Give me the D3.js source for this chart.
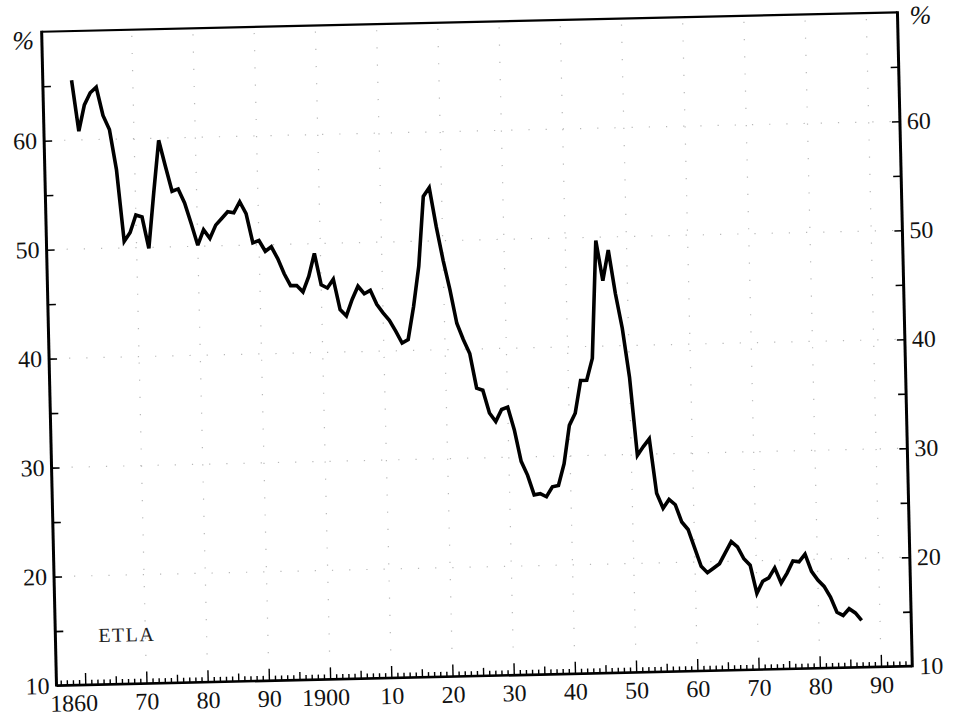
<!DOCTYPE html>
<html><head><meta charset="utf-8">
<script src="https://cdn.jsdelivr.net/npm/d3@7"></script>
<style>html,body{margin:0;padding:0;background:#fff;} svg{display:block;}</style>
</head><body>
<svg id="c" width="955" height="718"></svg>
<script>
// ---- data ----
const firstYear = 1860;
const shares = [
 65.5,60.8,63.2,64.3,64.8,62.2,60.9,57.2,50.6,51.4,
 53.0,52.8,49.9,55.0,59.8,57.4,55.1,55.3,54.0,52.1,
 50.1,51.5,50.7,51.9,52.5,53.1,53.0,54.0,52.9,50.2,
 50.4,49.4,49.8,48.7,47.3,46.2,46.2,45.6,47.0,49.1,
 46.2,45.9,46.7,43.9,43.3,44.8,46.0,45.3,45.6,44.3,
 43.5,42.8,41.8,40.7,41.0,44.0,47.7,54.1,54.9,51.3,
 48.2,45.5,42.4,40.9,39.6,36.4,36.2,34.1,33.3,34.4,
 34.6,32.5,29.6,28.3,26.5,26.6,26.3,27.2,27.3,29.3,
 32.8,33.9,36.9,36.9,38.9,49.7,46.0,48.8,44.8,41.6,
 37.1,29.9,30.7,31.4,26.4,25.0,25.8,25.3,23.7,23.0,
 21.3,19.6,19.0,19.4,19.8,20.8,21.8,21.3,20.2,19.6,
 17.0,18.1,18.4,19.3,17.9,18.8,19.9,19.8,20.5,18.9,
 18.1,17.5,16.5,15.1,14.8,15.4,15.0,14.3
];
const yTickValues = [15,20,25,30,35,40,45,50,55,60,65];
const yLabelValues = [10,20,30,40,50,60];
const xLabelYears = [1860,1870,1880,1890,1900,1910,1920,1930,1940,1950,1960,1970,1980,1990];
const xLabelTexts = ["1860","70","80","90","1900","10","20","30","40","50","60","70","80","90"];
const sourceLabel = "ETLA";
const unitLabel = "%";

// ---- layout ----
const L = 49, R = 905, T = 22, B = 676;
const x = d3.scaleLinear().domain([1855.3, 1995.1]).range([L, R]);
const y = d3.scaleLinear().domain([10, 70]).range([B, T]);
const data = shares.map((v, i) => ({year: firstYear + i, v}));

const svg = d3.select('#c');
const g = svg.append('g').attr('transform', 'rotate(-1.3,475,350)');
const serif = "'Liberation Serif','DejaVu Serif',serif";

// faint dotted grid
const grid = g.append('g').attr('stroke', '#8a8a8a').attr('stroke-width', 1.2)
  .attr('stroke-dasharray', '1.2,16').attr('opacity', 0.6);
grid.selectAll('line.h').data([20,30,40,50,60]).join('line')
  .attr('x1', L + 20).attr('x2', R - 4).attr('y1', d => y(d)).attr('y2', d => y(d));
grid.selectAll('line.v').data(d3.range(1870, 1991, 10)).join('line')
  .attr('y1', T + 6).attr('y2', B - 14).attr('x1', d => x(d)).attr('x2', d => x(d));

// bottom axis ticks (inward)
function bottomTicks(vals, size) {
  const a = d3.axisBottom(x).tickValues(vals).tickSizeInner(-size).tickSizeOuter(0).tickFormat('');
  const s = g.append('g').attr('transform', `translate(0,${B})`).call(a);
  s.select('.domain').remove();
  s.selectAll('line').attr('stroke', '#000').attr('stroke-width', 1.4);
}
bottomTicks(d3.range(1856, 1995).filter(d => d % 5 !== 0), 5);
bottomTicks(d3.range(1855, 1995, 10).filter(d => d > 1855), 8);
bottomTicks(d3.range(1860, 1995, 10), 12);

// bottom labels
const xl = g.append('g').attr('transform', `translate(0,${B})`)
  .call(d3.axisBottom(x).tickValues(xLabelYears).tickSize(0).tickPadding(9)
    .tickFormat((d, i) => xLabelTexts[i]));
xl.select('.domain').remove();
xl.selectAll('text').attr('font-family', serif).attr('font-size', 24).attr('fill', '#111')
  .attr('dx', d => d === 1860 ? -12 : (d === 1900 ? -5 : 0));

// left axis
const yl = g.append('g').attr('transform', `translate(${L},0)`)
  .call(d3.axisLeft(y).tickValues(yTickValues).tickSizeInner(-8).tickSizeOuter(0).tickFormat(''));
yl.select('.domain').remove();
yl.selectAll('line').attr('stroke', '#000').attr('stroke-width', 1.6);
const yLab = g.append('g').attr('transform', `translate(${L},0)`)
  .call(d3.axisLeft(y).tickValues(yLabelValues).tickSize(0).tickPadding(7));
yLab.select('.domain').remove();
yLab.selectAll('text').attr('font-family', serif).attr('font-size', 24).attr('fill', '#111');

// right axis
const yr = g.append('g').attr('transform', `translate(${R},0)`)
  .call(d3.axisRight(y).tickValues(yTickValues).tickSizeInner(-8).tickSizeOuter(0).tickFormat(''));
yr.select('.domain').remove();
yr.selectAll('line').attr('stroke', '#000').attr('stroke-width', 1.6);
const yrLab = g.append('g').attr('transform', `translate(${R},0)`)
  .call(d3.axisRight(y).tickValues(yLabelValues).tickSize(0).tickPadding(7));
yrLab.select('.domain').remove();
yrLab.selectAll('text').attr('font-family', serif).attr('font-size', 24).attr('fill', '#111');

// frame
g.append('line').attr('x1', L).attr('x2', R).attr('y1', T).attr('y2', T).attr('stroke', '#000').attr('stroke-width', 2.2);
g.append('line').attr('x1', L).attr('x2', R).attr('y1', B).attr('y2', B).attr('stroke', '#000').attr('stroke-width', 2.6);
g.append('line').attr('x1', L).attr('x2', L).attr('y1', T - 1).attr('y2', B + 1).attr('stroke', '#000').attr('stroke-width', 3);
g.append('line').attr('x1', R).attr('x2', R).attr('y1', T - 1).attr('y2', B + 1).attr('stroke', '#000').attr('stroke-width', 3);

// unit labels
g.append('text').attr('x', L - 8).attr('y', T + 17).attr('text-anchor', 'end')
  .attr('font-family', serif).attr('font-style', 'italic').attr('font-size', 26).attr('fill', '#111').text(unitLabel);
g.append('text').attr('x', R + 12).attr('y', T + 12).attr('text-anchor', 'start')
  .attr('font-family', serif).attr('font-style', 'italic').attr('font-size', 26).attr('fill', '#111').text(unitLabel);

// source label
g.append('text').attr('x', x(1862.3)).attr('y', y(13.9)).attr('font-family', serif)
  .attr('font-size', 20).attr('letter-spacing', 1.5).attr('fill', '#222').text(sourceLabel);

// the series
const line = d3.line().x(d => x(d.year)).y(d => y(d.v));
g.append('path').datum(data).attr('d', line).attr('fill', 'none').attr('stroke', '#000')
  .attr('stroke-width', 3.6).attr('stroke-linejoin', 'miter').attr('stroke-miterlimit', 3);
</script>
</body></html>
